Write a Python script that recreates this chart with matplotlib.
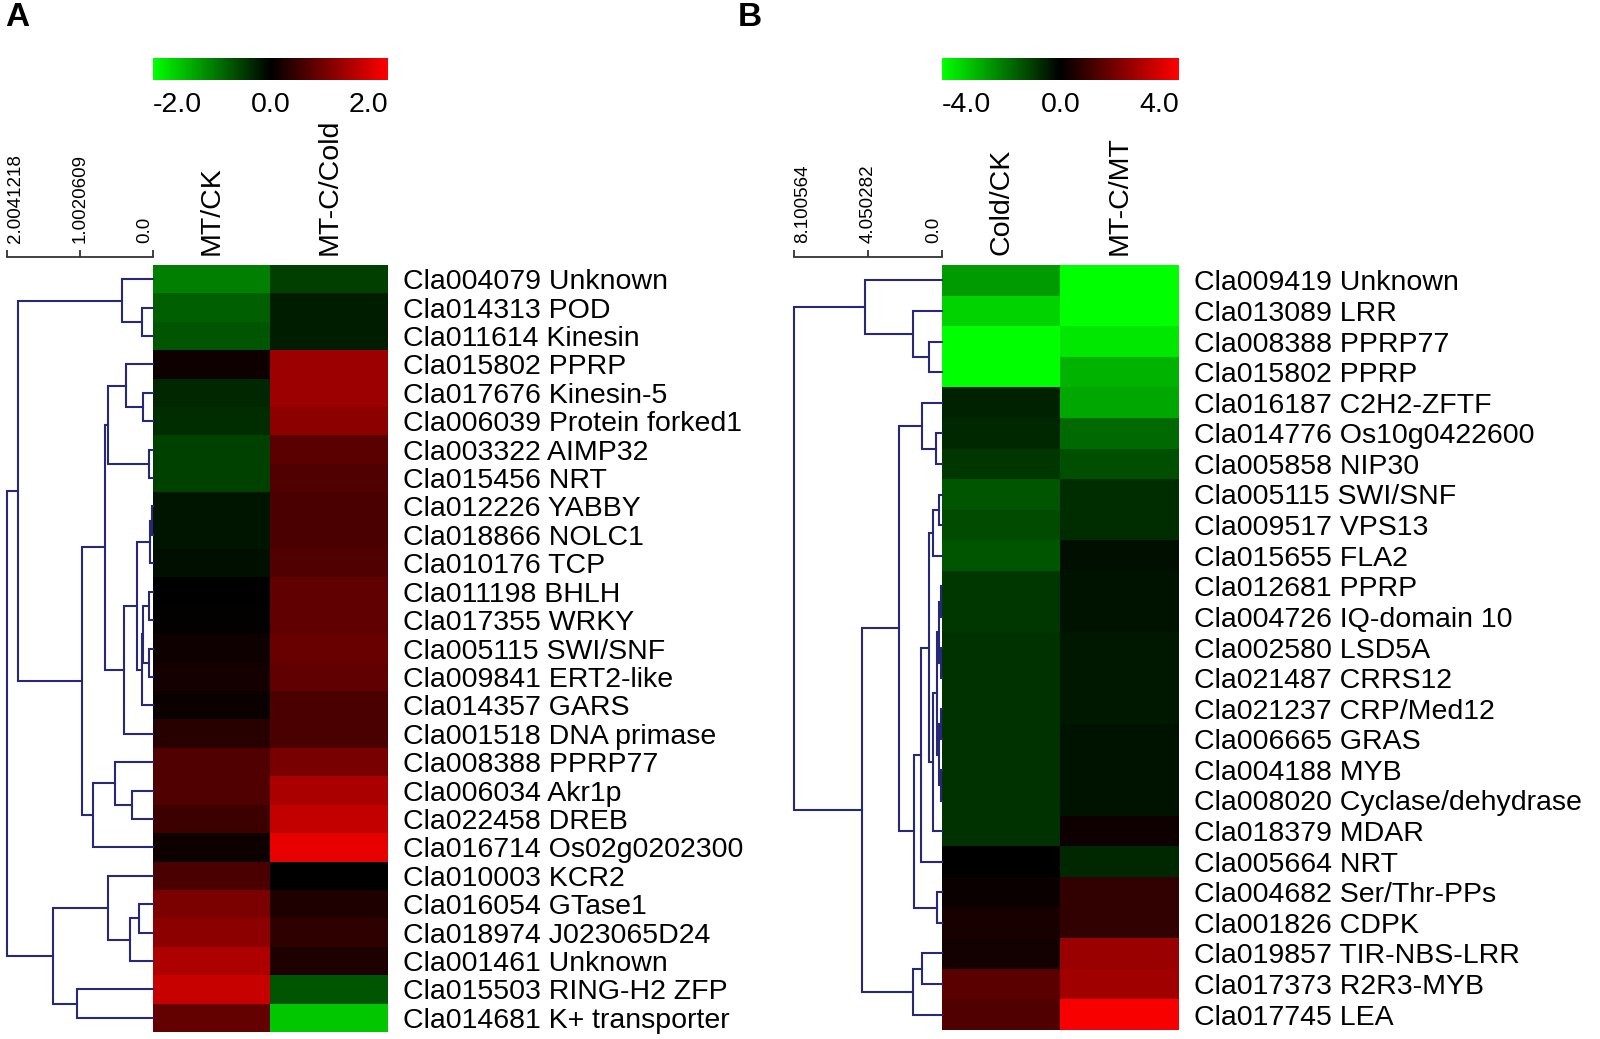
import numpy as np
import matplotlib
matplotlib.use('Agg')
import matplotlib.pyplot as plt
from matplotlib.colors import LinearSegmentedColormap, Normalize
from matplotlib.cm import ScalarMappable
from matplotlib.transforms import blended_transform_factory

plt.rcParams['font.family'] = ['Liberation Sans', 'DejaVu Sans']
plt.rcParams['axes.unicode_minus'] = False

# ---- panel A data ----
genesA = ['Cla004079 Unknown', 'Cla014313 POD', 'Cla011614 Kinesin', 'Cla015802 PPRP',
          'Cla017676 Kinesin-5', 'Cla006039 Protein forked1', 'Cla003322 AIMP32',
          'Cla015456 NRT', 'Cla012226 YABBY', 'Cla018866 NOLC1', 'Cla010176 TCP',
          'Cla011198 BHLH', 'Cla017355 WRKY', 'Cla005115 SWI/SNF', 'Cla009841 ERT2-like',
          'Cla014357 GARS', 'Cla001518 DNA primase', 'Cla008388 PPRP77', 'Cla006034 Akr1p',
          'Cla022458 DREB', 'Cla016714 Os02g0202300', 'Cla010003 KCR2', 'Cla016054 GTase1',
          'Cla018974 J023065D24', 'Cla001461 Unknown', 'Cla015503 RING-H2 ZFP',
          'Cla014681 K+ transporter']
colsA = ['MT/CK', 'MT-C/Cold']
mtCkA = [-1.0, -0.75, -0.67, 0.12, -0.31, -0.35, -0.51, -0.51, -0.16, -0.16, -0.12,
         0.0, 0.02, 0.12, 0.16, 0.08, 0.31, 0.63, 0.63, 0.47, 0.12, 0.59, 0.96, 1.1,
         1.37, 1.55, 0.78]
mtcColdA = [-0.5, -0.23, -0.23, 1.22, 1.22, 1.1, 0.71, 0.63, 0.59, 0.59, 0.63,
            0.75, 0.75, 0.82, 0.75, 0.59, 0.59, 0.94, 1.33, 1.53, 1.8, 0.0, 0.24,
            0.37, 0.24, -0.67, -1.55]
# merges [child a, child b, height]; leaves are 0..n-1, merge k gets id n+k
linkA = [[8, 9, 0.018], [27, 10, 0.041], [11, 12, 0.055], [13, 14, 0.05],
         [29, 30, 0.133], [31, 15, 0.155], [28, 32, 0.215], [33, 16, 0.398],
         [4, 5, 0.141], [3, 35, 0.371], [6, 7, 0.055], [36, 37, 0.614],
         [38, 34, 0.659], [18, 19, 0.292], [17, 40, 0.522], [41, 20, 0.82],
         [39, 42, 0.979], [1, 2, 0.151], [0, 44, 0.426], [45, 43, 1.853],
         [22, 23, 0.192], [47, 24, 0.316], [21, 48, 0.618], [25, 26, 1.043],
         [49, 50, 1.373], [46, 51, 2.0]]
scaleA = [2.0041218, 1.0020609, 0.0]
scaleLabelsA = ['2.0041218', '1.0020609', '0.0']
cbarTicksA = [-2.0, 0.0, 2.0]

# ---- panel B data ----
genesB = ['Cla009419 Unknown', 'Cla013089 LRR', 'Cla008388 PPRP77', 'Cla015802 PPRP',
          'Cla016187 C2H2-ZFTF', 'Cla014776 Os10g0422600', 'Cla005858 NIP30',
          'Cla005115 SWI/SNF', 'Cla009517 VPS13', 'Cla015655 FLA2', 'Cla012681 PPRP',
          'Cla004726 IQ-domain 10', 'Cla002580 LSD5A', 'Cla021487 CRRS12',
          'Cla021237 CRP/Med12', 'Cla006665 GRAS', 'Cla004188 MYB',
          'Cla008020 Cyclase/dehydrase', 'Cla018379 MDAR', 'Cla005664 NRT',
          'Cla004682 Ser/Thr-PPs', 'Cla001826 CDPK', 'Cla019857 TIR-NBS-LRR',
          'Cla017373 R2R3-MYB', 'Cla017745 LEA']
colsB = ['Cold/CK', 'MT-C/MT']
coldCkB = [-2.43, -3.3, -4.0, -4.0, -0.55, -0.63, -0.86, -1.33, -1.18, -1.33, -0.86,
           -0.86, -0.8, -0.8, -0.8, -0.8, -0.8, -0.8, -0.8, 0.0, 0.16, 0.39, 0.31,
           1.41, 1.25]
mtcMtB = [-4.0, -4.0, -3.6, -2.8, -2.6, -1.65, -1.25, -0.7, -0.7, -0.24, -0.31,
          -0.31, -0.35, -0.35, -0.35, -0.31, -0.31, -0.31, 0.24, -0.63, 0.78, 0.78,
          2.43, 2.5, 3.9]
linkB = [[2, 3, 0.70], [1, 25, 1.61], [0, 26, 4.23], [5, 6, 0.35], [4, 28, 1.08],
         [7, 8, 0.165], [30, 9, 0.51], [10, 11, 0.07], [12, 13, 0.06], [32, 33, 0.16],
         [14, 15, 0.06], [16, 17, 0.06], [35, 36, 0.14], [34, 37, 0.29], [38, 18, 0.48],
         [31, 39, 0.70], [40, 19, 1.13], [20, 21, 0.29], [41, 42, 1.54], [29, 43, 2.35],
         [22, 23, 1.08], [45, 24, 1.61], [44, 46, 4.38], [27, 47, 8.1]]
scaleB = [8.100564, 4.050282, 0.0]
scaleLabelsB = ['8.100564', '4.050282', '0.0']
cbarTicksB = [-4.0, 0.0, 4.0]

W, H = 1600, 1039
FS = 20.5
LINE = '#282878'
cmap = LinearSegmentedColormap.from_list('gkr', ['#00ff00', '#000000', '#ff0000'])


def box(x0, y0, x1, y1):
    # pixel box, origin top-left -> figure fraction rect
    return [x0 / W, 1 - y1 / H, (x1 - x0) / W, (y1 - y0) / H]


def drawDendro(ax, link, n):
    pos = {i: (float(i), 0.0) for i in range(n)}
    for k, (a, b, h) in enumerate(link):
        ya, ha = pos[a]
        yb, hb = pos[b]
        ax.plot([ha, h, h, hb], [ya, ya, yb, yb], color=LINE, lw=1.5,
                clip_on=False, solid_joinstyle='miter')
        pos[n + k] = ((ya + yb) / 2, h)


def panel(fig, xd, x0, x1, top, bottom, genes, cols, values, link, vmax,
          scaleVals, scaleLabels, cbarTicks):
    n = len(genes)
    data = np.column_stack(values)

    # heatmap
    ax = fig.add_axes(box(x0, top, x1, bottom))
    ax.imshow(data, cmap=cmap, vmin=-vmax, vmax=vmax, aspect='auto',
              interpolation='nearest')
    ax.xaxis.tick_top()
    ax.set_xticks(range(len(cols)))
    ax.set_xticklabels(cols, rotation=90, fontsize=FS)
    ax.yaxis.tick_right()
    ax.set_yticks(range(n))
    ax.set_yticklabels(genes, fontsize=FS)
    ax.tick_params(length=0)
    ax.tick_params(axis='x', pad=7)
    ax.tick_params(axis='y', pad=11)
    for s in ax.spines.values():
        s.set_visible(False)

    # dendrogram
    axd = fig.add_axes(box(xd, top, x0, bottom))
    drawDendro(axd, link, n)
    axd.set_xlim(scaleVals[0], 0)
    axd.set_ylim(n - 0.5, -0.5)
    axd.axis('off')

    # distance scale
    axs = fig.add_axes(box(xd, 200, x0, 257))
    axs.set_xlim(scaleVals[0], 0)
    axs.set_ylim(0, 1)
    axs.patch.set_visible(False)
    for side in ['top', 'left', 'right']:
        axs.spines[side].set_visible(False)
    axs.spines['bottom'].set_color('#333333')
    axs.spines['bottom'].set_linewidth(1.3)
    axs.set_yticks([])
    axs.set_xticks(scaleVals)
    axs.set_xticklabels([])
    axs.tick_params(axis='x', direction='in', length=5, width=1.3, color='#333333')
    for v, lab, ha in zip(scaleVals, scaleLabels, ['left', 'center', 'right']):
        axs.text(v, 0.25, lab, rotation=90, ha=ha, va='bottom', fontsize=13.5)

    # colour key
    cax = fig.add_axes(box(x0, 58, x1, 80))
    cb = fig.colorbar(ScalarMappable(Normalize(-vmax, vmax), cmap), cax=cax,
                      orientation='horizontal')
    cb.outline.set_visible(False)
    cax.set_xticks([])
    tr = blended_transform_factory(cax.transData, cax.transAxes)
    for t, ha in zip(cbarTicks, ['left', 'center', 'right']):
        cax.text(t, -0.55, '%.1f' % t, transform=tr, ha=ha, va='top', fontsize=FS)


fig = plt.figure(figsize=(16, 10.39), dpi=100)
panel(fig, 7, 153, 388, 265, 1032, genesA, colsA, [mtCkA, mtcColdA], linkA, 2.0,
      scaleA, scaleLabelsA, cbarTicksA)
panel(fig, 794, 942, 1179, 265, 1030, genesB, colsB, [coldCkB, mtcMtB], linkB, 4.0,
      scaleB, scaleLabelsB, cbarTicksB)
fig.text(5 / W, 1 - 2 / H, 'A', fontsize=24, fontweight='bold', va='top', ha='left')
fig.text(738 / W, 1 - 2 / H, 'B', fontsize=24, fontweight='bold', va='top', ha='left')

fig.savefig('out.png', dpi=100)
